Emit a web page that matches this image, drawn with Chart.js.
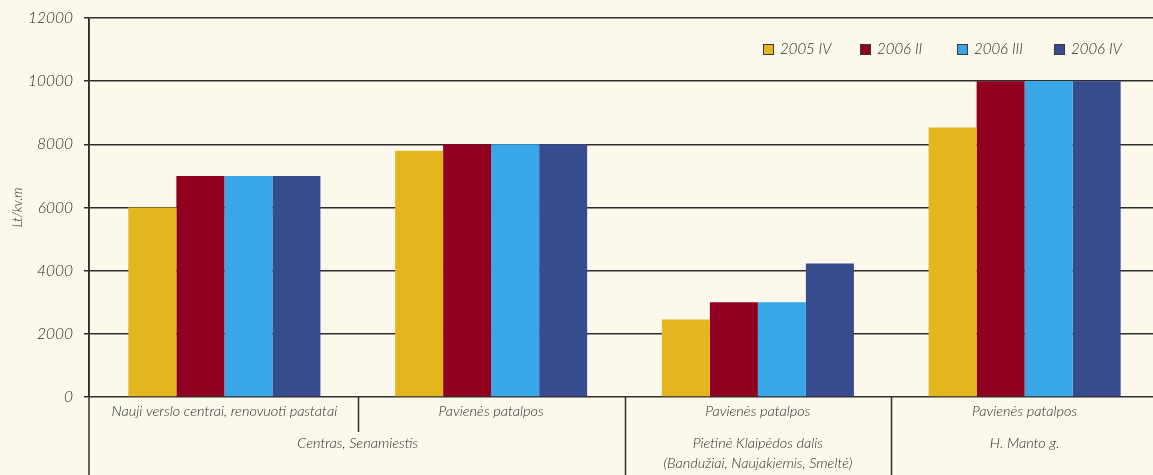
<!DOCTYPE html>
<html>
<head>
<meta charset="utf-8">
<script src="https://cdn.jsdelivr.net/npm/chart.js@4.4.0/dist/chart.umd.min.js"></script>
<style>
  html, body { margin: 0; padding: 0; background: #fdf8ec; }
  #wrap { width: 1153px; height: 475px; position: relative; }
</style>
</head>
<body>
<div id="wrap"><canvas id="priceChart"></canvas></div>
<script>
// Sub-categories under each group of bars
const categories = [
  'Nauji verslo centrai, renovuoti pastatai',
  'Pavienės patalpos',
  'Pavienės patalpos',
  'Pavienės patalpos'
];
// City districts, each spanning one or more categories
const districtLabels = [
  ['Centras, Senamiestis'],
  ['Pietinė Klaipėdos dalis', '(Bandužiai, Naujakiemis, Smeltė)'],
  ['H. Manto g.']
];
const districtSpans = [[0, 1], [2, 2], [3, 3]];

const seriesNames = ['2005 IV', '2006 II', '2006 III', '2006 IV'];
const values2005IV  = [6000, 7800, 2450, 8530];
const values2006II  = [7000, 8000, 3000, 10000];
const values2006III = [7000, 8000, 3000, 10000];
const values2006IV  = [7000, 8000, 4230, 10000];
const yTicks = [0, 2000, 4000, 6000, 8000, 10000, 12000];

const seriesColors = ['#e3b620', '#920021', '#38a7e8', '#364c8e'];
const inkColor = '#2c2c2c';
const lineColor = '#2e2e2e';
const fontFamily = 'Lato, "Open Sans", sans-serif';

// Category band runs a little wider than the plot, past the right edge
const bandShift = {
  id: 'bandShift',
  afterLayout(chart) {
    const x = chart.scales.x;
    x.left = chart.chartArea.left + 2;
    x.right = chart.chartArea.right + 5;
    x.width = x.right - x.left;
    x.configure();
  }
};

// Two-level labels under the x axis plus the divider lines between groups
const bottomLabels = {
  id: 'bottomLabels',
  afterDraw(chart) {
    const { ctx, chartArea } = chart;
    const x = chart.scales.x;
    const base = chartArea.bottom;
    const h = chart.height;

    ctx.save();
    ctx.strokeStyle = lineColor;
    ctx.lineWidth = 1.5;
    ctx.beginPath();
    ctx.moveTo(chartArea.left, chartArea.top);
    ctx.lineTo(chartArea.left, h);
    for (let i = 0; i < categories.length - 1; i++) {
      const bx = Math.round(x.getPixelForValue(i + 0.5)) + 0.5;
      const inside = districtSpans.some(s => i >= s[0] && i < s[1]);
      ctx.moveTo(bx, base);
      ctx.lineTo(bx, inside ? base + 35 : h);
    }
    ctx.stroke();

    ctx.fillStyle = inkColor;
    ctx.textAlign = 'center';
    ctx.textBaseline = 'middle';
    ctx.font = 'italic 300 14.5px ' + fontFamily;
    categories.forEach((c, i) => {
      ctx.fillText(c, x.getPixelForValue(i), base + 14);
    });
    districtLabels.forEach((lines, k) => {
      const [a, b] = districtSpans[k];
      const cx = (x.getPixelForValue(a) + x.getPixelForValue(b)) / 2;
      lines.forEach((t, j) => ctx.fillText(t, cx, base + 46 + j * 20));
    });
    ctx.restore();
  }
};

// Legend row in the top right corner, fixed-width slots
const slotLegend = {
  id: 'slotLegend',
  afterDraw(chart) {
    const { ctx } = chart;
    const startX = chart.width - 390;
    const cy = 49;
    ctx.save();
    ctx.font = 'italic 300 15px ' + fontFamily;
    ctx.textBaseline = 'middle';
    ctx.textAlign = 'left';
    chart.data.datasets.forEach((ds, i) => {
      const bx = startX + i * 97;
      ctx.fillStyle = ds.backgroundColor;
      ctx.fillRect(bx, cy - 5, 11, 11);
      ctx.strokeStyle = '#3a3a3a';
      ctx.lineWidth = 1;
      ctx.strokeRect(bx + 0.5, cy - 4.5, 10, 10);
      ctx.fillStyle = inkColor;
      ctx.fillText(ds.label, bx + 17, cy);
    });
    ctx.restore();
  }
};

const seriesValues = [values2005IV, values2006II, values2006III, values2006IV];

new Chart(document.getElementById('priceChart'), {
  type: 'bar',
  data: {
    labels: categories,
    datasets: seriesNames.map((name, i) => ({
      label: name,
      data: seriesValues[i],
      backgroundColor: seriesColors[i],
      borderWidth: 0,
      categoryPercentage: 0.72,
      barPercentage: 1.0
    }))
  },
  options: {
    responsive: true,
    maintainAspectRatio: false,
    animation: false,
    layout: { padding: { top: 18, bottom: 78, left: 0, right: 0 } },
    plugins: {
      legend: { display: false },
      tooltip: { enabled: false }
    },
    scales: {
      x: { display: false },
      y: {
        min: 0,
        max: 12000,
        afterFit(scale) {
          scale.width = 89;
          // let the layout padding decide where the plot starts
          scale.paddingTop = 0;
          scale.paddingBottom = 0;
        },
        afterBuildTicks(scale) { scale.ticks = yTicks.map(v => ({ value: v })); },
        title: {
          display: true,
          text: 'Lt/kv.m',
          color: inkColor,
          font: { family: fontFamily, size: 13, style: 'italic', weight: 300 },
          padding: { top: 10, bottom: 0 }
        },
        ticks: {
          color: inkColor,
          padding: 11,
          callback: v => String(v),
          font: { family: fontFamily, size: 15.5, style: 'italic', weight: 300 }
        },
        grid: {
          color: lineColor,
          lineWidth: 1.5,
          tickLength: 5,
          tickColor: lineColor
        },
        border: { color: lineColor, width: 1.5 }
      }
    }
  },
  plugins: [bandShift, bottomLabels, slotLegend]
});
</script>
</body>
</html>
